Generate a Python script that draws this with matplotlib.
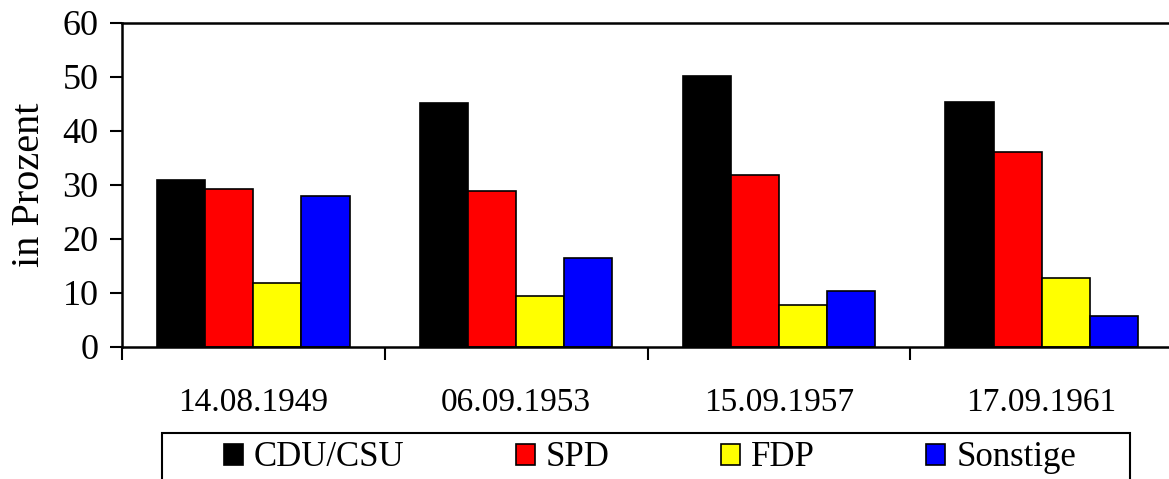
import matplotlib.pyplot as plt
import numpy as np
from matplotlib.patches import Patch, Rectangle

plt.rcParams['font.family'] = ['Liberation Serif', 'DejaVu Serif']

wahlen = ["14.08.1949", "06.09.1953", "15.09.1957", "17.09.1961"]
parteien = ["CDU/CSU", "SPD", "FDP", "Sonstige"]
farben = ["#000000", "#ff0000", "#ffff00", "#0000ff"]
cdu = [31.0, 45.2, 50.2, 45.3]
spd = [29.2, 28.8, 31.8, 36.2]
fdp = [11.9, 9.5, 7.7, 12.8]
sonstige = [27.9, 16.5, 10.3, 5.7]
werte = [cdu, spd, fdp, sonstige]

fig = plt.figure(figsize=(11.69, 4.79), dpi=100)
ax = fig.add_axes([0.1044, 0.2756, 0.899, 0.6764])

x = np.arange(len(wahlen))
breite = 0.183
for i, (name, farbe, vals) in enumerate(zip(parteien, farben, werte)):
    ax.bar(x + (i - 1.5) * breite, vals, breite, color=farbe,
           edgecolor="black", linewidth=1.2, label=name)

ax.set_xlim(-0.5, 3.5)
ax.set_ylim(0, 60)
ax.set_yticks(range(0, 61, 10))
ax.set_xticks(x)
ax.set_xticklabels(wahlen)
ax.set_xticks([-0.5, 0.5, 1.5, 2.5], minor=True)
ax.tick_params(axis="x", which="major", length=0, pad=29, labelsize=24)
ax.tick_params(axis="x", which="minor", length=9, width=1.5, direction="out")
ax.tick_params(axis="y", length=9, width=1.5, direction="out", labelsize=26, pad=8)
ax.set_ylabel("in Prozent", fontsize=29, labelpad=10)

for s in ["left", "bottom", "top"]:
    ax.spines[s].set_linewidth(1.8)
ax.spines["right"].set_visible(False)

# Legende ohne eigenen Rahmen, Rahmen separat wie im Original
handles = [Patch(facecolor=f, edgecolor="black", linewidth=1.2) for f in farben]
leg = fig.legend(handles, parteien, ncol=4, loc="center",
                 bbox_to_anchor=(650 / 1169, 1 - 458 / 479),
                 prop={"family": "Liberation Serif", "size": 25}, frameon=False,
                 handlelength=0.55, handleheight=0.55,
                 handletextpad=0.32, borderpad=0, columnspacing=3.2,
                 borderaxespad=0)
fig.add_artist(Rectangle((162 / 1169, -0.05), (1130 - 162) / 1169, 0.05 + 1 - 433 / 479,
                         transform=fig.transFigure, fill=False,
                         edgecolor="black", linewidth=1.5))

fig.savefig("out.png", dpi=100)
